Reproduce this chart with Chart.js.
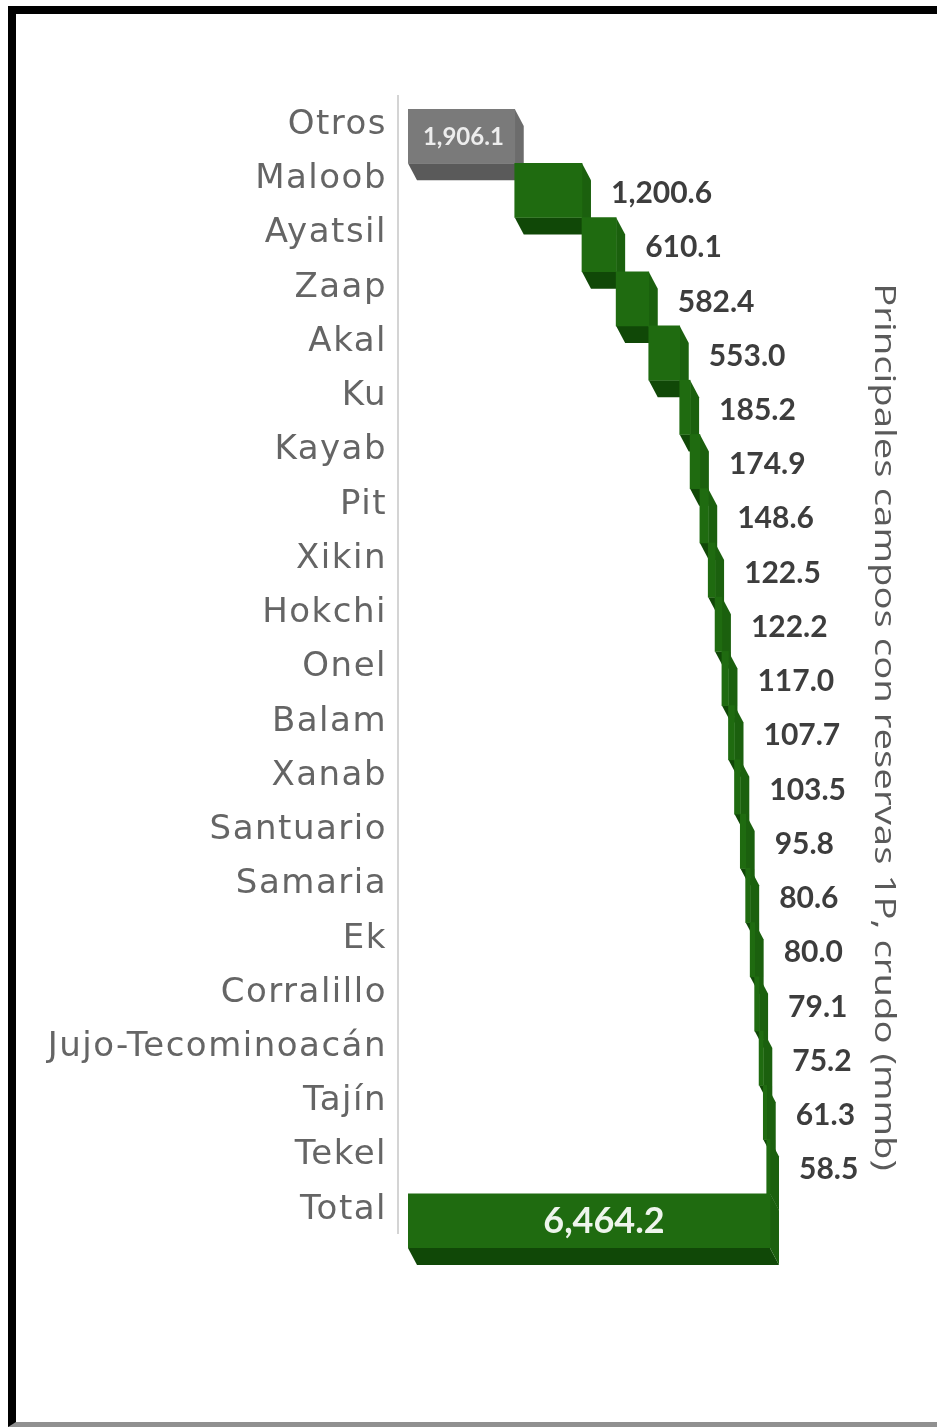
<!DOCTYPE html>
<html lang="es">
<head>
  <meta charset="UTF-8">
  <meta name="viewport" content="width=device-width, initial-scale=1.0">
  <title>Principales campos con reservas 1P, crudo (mmb)</title>
  <style>
    html, body {
      margin: 0;
      padding: 0;
      background: #ffffff;
      overflow: hidden;
    }
    #frame {
      position: absolute;
      top: 6px;
      left: 8px;
      width: 1000px;
      height: 1408px;
      border-top: 8px solid #000;
      border-left: 8px solid #000;
      border-bottom: 5px solid #909090;
    }
    #chart-container {
      position: absolute;
      left: 0;
      top: 0;
      width: 937px;
      height: 1427px;
    }
  </style>
</head>
<body>
  <div id="frame"></div>
  <div id="chart-container">
    <canvas id="reservasChart"></canvas>
  </div>

  <script src="https://cdn.jsdelivr.net/npm/chart.js@4.4.3/dist/chart.umd.min.js"></script>
  <script>
    // Fields, top to bottom
    const categories = [
      'Otros', 'Maloob', 'Ayatsil', 'Zaap', 'Akal', 'Ku', 'Kayab', 'Pit', 'Xikin',
      'Hokchi', 'Onel', 'Balam', 'Xanab', 'Santuario', 'Samaria', 'Ek', 'Corralillo',
      'Jujo-Tecominoacán', 'Tajín', 'Tekel', 'Total'
    ];
    // 1P crude reserves per field (mmb)
    const fieldValues = [
      1906.1, 1200.6, 610.1, 582.4, 553.0, 185.2, 174.9, 148.6, 122.5, 122.2,
      117.0, 107.7, 103.5, 95.8, 80.6, 80.0, 79.1, 75.2, 61.3, 58.5
    ];
    const totalValue = 6464.2;
    const axisTitle = 'Principales campos con reservas 1P, crudo (mmb)';

    // Waterfall: each field floats on top of the running sum, total starts at zero
    let running = 0;
    const ranges = fieldValues.map(v => {
      const r = [running, running + v];
      running += v;
      return r;
    });
    ranges.push([0, totalValue]);
    const shownValues = fieldValues.concat([totalValue]);

    // Face / side / bottom shades for the 3D look
    const faceColors = ranges.map((r, i) => i === 0 ? '#7a7a7a' : '#1f6b10');
    const sideColors = ranges.map((r, i) => i === 0 ? '#6c6c6c' : '#1b600e');
    const bottomColors = ranges.map((r, i) => i === 0 ? '#5a5a5a' : '#104807');

    const DEPTH_X = 9;
    const DEPTH_Y = 17;
    const AXIS_SHIFT = 14;

    const fmt = v => v.toLocaleString('en-US', { minimumFractionDigits: 1, maximumFractionDigits: 1 });

    function poly(ctx, pts, color) {
      ctx.beginPath();
      ctx.moveTo(pts[0][0], pts[0][1]);
      for (let k = 1; k < pts.length; k++) ctx.lineTo(pts[k][0], pts[k][1]);
      ctx.closePath();
      ctx.fillStyle = color;
      ctx.fill();
    }

    // Wider tracking for the category names (axes are drawn before the datasets)
    const trackingPlugin = {
      id: 'tracking',
      beforeDraw(chart) { chart.ctx.letterSpacing = '1.5px'; }
    };

    // Draws the extruded sides behind the bar faces, plus the category axis line
    const extrudePlugin = {
      id: 'extrude',
      beforeDatasetsDraw(chart) {
        const ctx = chart.ctx;
        const area = chart.chartArea;
        ctx.letterSpacing = '0px';
        ctx.save();

        ctx.strokeStyle = '#d4d4d4';
        ctx.lineWidth = 2;
        ctx.beginPath();
        ctx.moveTo(area.left - 10, area.top - AXIS_SHIFT);
        ctx.lineTo(area.left - 10, area.bottom - AXIS_SHIFT);
        ctx.stroke();

        const meta = chart.getDatasetMeta(0);
        meta.data.forEach((bar, i) => {
          const p = bar.getProps(['x', 'y', 'base', 'height'], true);
          const x0 = Math.min(p.x, p.base);
          const x1 = Math.max(p.x, p.base);
          const y0 = p.y - p.height / 2;
          const y1 = p.y + p.height / 2;
          poly(ctx, [[x0, y1], [x1, y1], [x1 + DEPTH_X, y1 + DEPTH_Y], [x0 + DEPTH_X, y1 + DEPTH_Y]], bottomColors[i]);
          poly(ctx, [[x1, y0], [x1 + DEPTH_X, y0 + DEPTH_Y], [x1 + DEPTH_X, y1 + DEPTH_Y], [x1, y1]], sideColors[i]);
        });
        ctx.restore();
      }
    };

    // Value labels: inside for first and total bars, to the right for the rest
    const valueLabelPlugin = {
      id: 'valueLabels',
      afterDatasetsDraw(chart) {
        const ctx = chart.ctx;
        const meta = chart.getDatasetMeta(0);
        const last = meta.data.length - 1;
        ctx.save();
        ctx.textBaseline = 'middle';
        meta.data.forEach((bar, i) => {
          const p = bar.getProps(['x', 'y', 'base'], true);
          const x0 = Math.min(p.x, p.base);
          const x1 = Math.max(p.x, p.base);
          const text = fmt(shownValues[i]);
          if (i === 0) {
            ctx.font = 'bold 24px Lato';
            ctx.fillStyle = '#ededed';
            ctx.textAlign = 'center';
            ctx.fillText(text, (x0 + x1) / 2 + 2, p.y + 1);
          } else if (i === last) {
            ctx.font = 'bold 36px Lato';
            ctx.fillStyle = '#eef5ec';
            ctx.textAlign = 'center';
            ctx.fillText(text, (x0 + x1) / 2 + 15, p.y + 1);
          } else {
            ctx.font = 'bold 30px Lato';
            ctx.fillStyle = '#3d3d3d';
            ctx.textAlign = 'left';
            ctx.fillText(text, x1 + 29, p.y + 3);
          }
        });
        ctx.restore();
      }
    };

    // Rotated title on the right side, reading top to bottom
    const sideTitlePlugin = {
      id: 'sideTitle',
      afterDraw(chart) {
        const ctx = chart.ctx;
        ctx.save();
        ctx.translate(chart.width - 53, 727);
        ctx.rotate(Math.PI / 2);
        ctx.scale(1.28, 1);
        ctx.font = '30px "Open Sans"';
        ctx.fillStyle = '#5a5a5a';
        ctx.textAlign = 'center';
        ctx.textBaseline = 'middle';
        ctx.fillText(axisTitle, 0, 0);
        ctx.restore();
      }
    };

    const ctx = document.getElementById('reservasChart').getContext('2d');
    const chart = new Chart(ctx, {
      type: 'bar',
      data: {
        labels: categories,
        datasets: [{
          data: ranges,
          backgroundColor: faceColors,
          borderWidth: 0,
          borderSkipped: false,
          barPercentage: 1,
          categoryPercentage: 1
        }]
      },
      plugins: [trackingPlugin, extrudePlugin, valueLabelPlugin, sideTitlePlugin],
      options: {
        indexAxis: 'y',
        responsive: true,
        maintainAspectRatio: false,
        animation: false,
        layout: {
          padding: { top: 109, bottom: 179, left: 0, right: 137 }
        },
        scales: {
          x: {
            display: false,
            min: 0,
            max: 7000
          },
          y: {
            afterFit(scale) { scale.width = 408; },
            border: { display: false },
            grid: { display: false, drawTicks: false },
            ticks: {
              padding: 21,
              labelOffset: -11,
              color: '#656565',
              font: { family: '"DejaVu Sans"', size: 34 }
            }
          }
        },
        plugins: {
          legend: { display: false },
          tooltip: { enabled: false }
        }
      }
    });
  </script>
</body>
</html>
